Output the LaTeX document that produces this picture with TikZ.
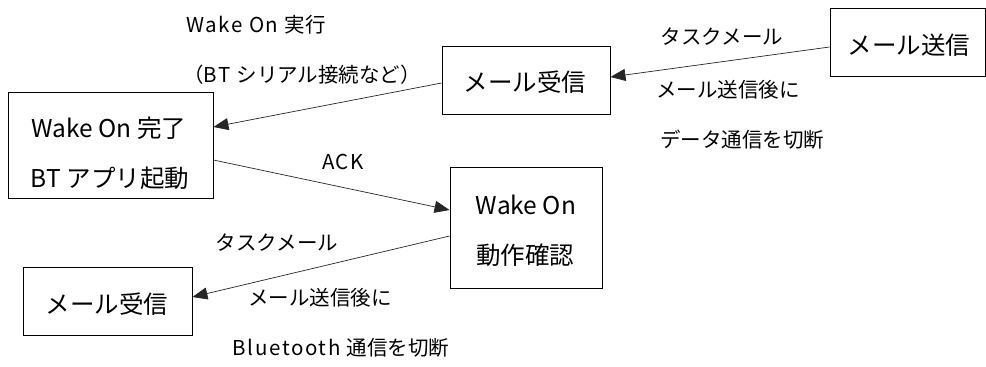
\documentclass[tikz,border=0pt]{standalone}
\usepackage{fontspec}
\setmainfont{Noto Sans CJK JP}
\newfontfamily\latsp{Noto Sans CJK JP}[LetterSpace=8]
\usetikzlibrary{arrows.meta}
\begin{document}
\begin{tikzpicture}[x=1pt,y=-1pt,
  box/.style={draw=black,line width=0.9pt,inner sep=0pt},
  boxtext/.style={inner sep=0pt,anchor=center,font=\fontsize{24.5}{24.5}\selectfont},
  lab/.style={inner sep=0pt,anchor=center,font=\fontsize{20.5}{20.5}\selectfont},
  arr/.style={draw=black!85,line width=0.7pt,-{Triangle[length=15pt,width=12pt]}}]
\useasboundingbox (0,0) rectangle (986,367);
% boxes
\node[box,minimum width=155pt,minimum height=68pt] (send) at (907.5,42) {};
\node[boxtext] (sendt) at (909,45) {メール送信};
\node[box,minimum width=168pt,minimum height=68pt] (recva) at (526,80) {};
\node[boxtext] (recvat) at (525,82) {メール受信};
\node[box,minimum width=205pt,minimum height=106pt] (wake) at (110.5,145) {};
\node[boxtext] (waket1) at (109,128) {Wake On 完了};
\node[boxtext] (waket2) at (110,178) {BT アプリ起動};
\node[box,minimum width=152pt,minimum height=121pt] (check) at (526,227.5) {};
\node[boxtext] (checkt1) at (526,205) {Wake On};
\node[boxtext] (checkt2) at (525,255) {動作確認};
\node[box,minimum width=169pt,minimum height=68pt] (recvb) at (107.5,301) {};
\node[boxtext] (recvbt) at (107,304) {メール受信};
% arrows
\draw[arr] ([yshift=-5pt]send.west) -- ([yshift=3pt]recva.east);
\draw[arr] ([yshift=-3pt]recva.west) -- ([yshift=18pt]wake.east);
\draw[arr] ([yshift=-15pt]wake.east) -- ([yshift=17.5pt]check.west);
\draw[arr] ([yshift=-8.5pt]check.west) -- ([yshift=4pt]recvb.east);
% labels
\node[lab] (l1) at (256,25) {{\latsp Wake On }実行};
\node[lab] (l2) at (302,75) {（{\latsp BT }シリアル接続など）};
\node[lab] (l3) at (722,37) {タスクメール};
\node[lab] (l4) at (728,90) {メール送信後に};
\node[lab] (l5) at (742,140) {データ通信を切断};
\node[lab] (ack) at (343,162) {{\latsp ACK}};
\node[lab] (l6) at (277,243) {タスクメール};
\node[lab] (l7) at (320,298) {メール送信後に};
\node[lab] (l8) at (341,348) {{\latsp Bluetooth }通信を切断};
\end{tikzpicture}
\end{document}
